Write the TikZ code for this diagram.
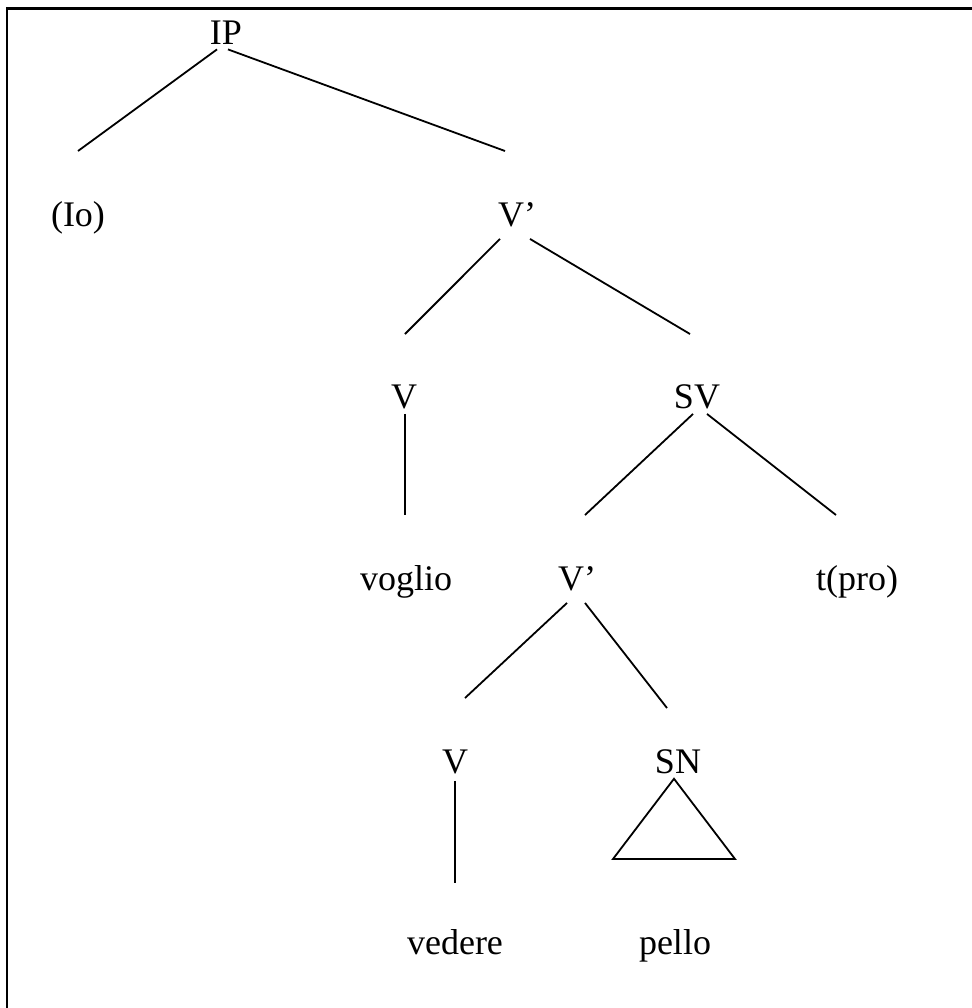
\documentclass[tikz,border=0pt]{standalone}
\usepackage{fontspec}
\setmainfont{Liberation Serif}
\tikzset{cat/.style={anchor=base,inner sep=0pt,font=\fontsize{18}{21.6}\selectfont},
  branch/.style={line width=0.9pt,line cap=butt},
  frame/.style={line width=1.4pt}}

\begin{document}
\begin{tikzpicture}[x=0.5pt,y=-0.5pt]
\useasboundingbox (0,0) rectangle (972,1008);
\draw[frame] (7,1008) -- (7,8.5) -- (972,8.5);
% labels, row by row
\node[cat] (ip) at (226,44) {IP};
\node[cat] (io) at (78,226) {(Io)};
\node[cat] (vb) at (517,226) {V’};
\node[cat] (v1) at (404,408) {V};
\node[cat] (sv) at (697,408) {SV};
\node[cat] (voglio) at (406,590) {voglio};
\node[cat] (vb2) at (577,590) {V’};
\node[cat] (tpro) at (857,590) {t(pro)};
\node[cat] (v2) at (455,773) {V};
\node[cat] (sn) at (678,773) {SN};
\node[cat] (vedere) at (455,954) {vedere};
\node[cat] (pello) at (675,954) {pello};
% lower ends of the branches
\coordinate (ip-l) at (78,151);
\coordinate (ip-r) at (505,151);
\coordinate (vb-l) at (405,334);
\coordinate (vb-r) at (690,334);
\coordinate (v1-d) at (405,515);
\coordinate (sv-l) at (585,515);
\coordinate (sv-r) at (836,515);
\coordinate (vb2-l) at (465,698);
\coordinate (vb2-r) at (667,708);
\coordinate (v2-d) at (455,883);
\coordinate (sn-l) at (613,859);
\coordinate (sn-r) at (735,859);
% branches
\draw[branch] ([shift={(-9,5)}]ip.south) -- (ip-l);
\draw[branch] ([shift={(2,5)}]ip.south) -- (ip-r);
\draw[branch] ([shift={(-17,12)}]vb.south) -- (vb-l);
\draw[branch] ([shift={(13,12)}]vb.south) -- (vb-r);
\draw[branch] ([shift={(1,5)}]v1.south) -- (v1-d);
\draw[branch] ([shift={(-4,5)}]sv.south) -- (sv-l);
\draw[branch] ([shift={(10,5)}]sv.south) -- (sv-r);
\draw[branch] ([shift={(-10,12)}]vb2.south) -- (vb2-l);
\draw[branch] ([shift={(8,12)}]vb2.south) -- (vb2-r);
\draw[branch] ([shift={(0,7)}]v2.south) -- (v2-d);
\draw[branch] ([shift={(-4,5)}]sn.south) -- (sn-l) -- (sn-r) -- cycle;
\end{tikzpicture}
\end{document}
